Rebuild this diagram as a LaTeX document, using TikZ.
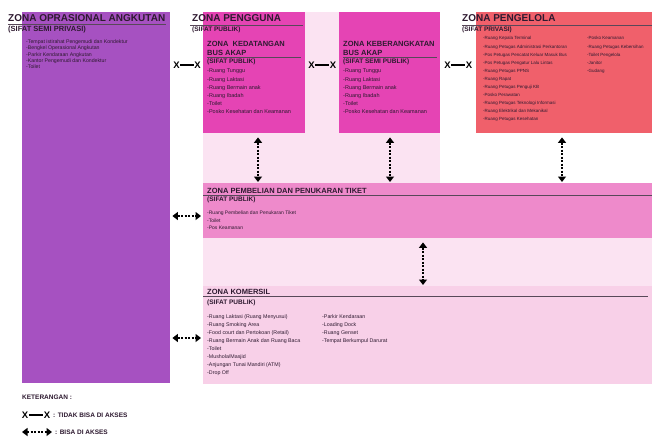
\documentclass[tikz,border=0pt]{standalone}
\usepackage{fontspec}
\setmainfont{Liberation Sans}
\usetikzlibrary{arrows.meta,calc}
\definecolor{purp}{HTML}{A651C1}
\definecolor{mag}{HTML}{E544B4}
\definecolor{lpink}{HTML}{FBE3F2}
\definecolor{salmon}{HTML}{F0606B}
\definecolor{pemb}{HTML}{EE8ACB}
\definecolor{komc}{HTML}{F8D0E8}
\definecolor{ink}{HTML}{2E1A30}
\begin{document}
\begin{tikzpicture}[x=1pt,y=-1pt,
  zone/.style={rectangle, inner sep=0pt, anchor=north west, draw=none},
  ttl/.style={anchor=west, inner sep=0pt, text=ink, font=\fontsize{10}{11}\selectfont\bfseries},
  sttl/.style={anchor=west, inner sep=0pt, text=ink, font=\fontsize{7.5}{9}\selectfont\bfseries},
  sub/.style={anchor=west, inner sep=0pt, text=ink, font=\fontsize{6.5}{7}\selectfont\bfseries},
  lst/.style={anchor=north west, inner sep=0pt, align=left, text=ink},
  uline/.style={draw=ink!80, line width=0.6pt},
  xm/.style={inner sep=0pt, font=\fontsize{9.5}{9.5}\selectfont\bfseries, text=black},
  xline/.style={line width=1.1pt, black, shorten <=0.5pt, shorten >=0.5pt},
  acc/.style={line width=1.4pt, black, dash pattern=on 2.2pt off 1.3pt,
    {Triangle[length=5.5pt,width=8pt]}-{Triangle[length=5.5pt,width=8pt]}},
  leg/.style={anchor=west, inner sep=0pt, text=ink, font=\fontsize{6.5}{7}\selectfont\bfseries}
]
\useasboundingbox[fill=white] (0,0) rectangle (652,436);

% background of Zona Pengguna
\fill[lpink] (203,12) rectangle (440,384);
\fill[lpink] (203,183) rectangle (652,384);

% zones
\node[zone, fill=purp, minimum width=148pt, minimum height=371pt] (opr) at (22,12) {};
\node[zone, fill=mag, minimum width=102pt, minimum height=121pt] (ked) at (203,12) {};
\node[zone, fill=mag, minimum width=101pt, minimum height=121pt] (ber) at (339,12) {};
\node[zone, fill=salmon, minimum width=176pt, minimum height=121pt] (pen) at (476,12) {};
\node[zone, fill=pemb, minimum width=449pt, minimum height=55pt] (pemb) at (203,183) {};
\node[zone, fill=komc, minimum width=449pt, minimum height=98pt] (kom) at (203,286) {};

% Zona Oprasional
\node[ttl] (oprT) at (8,18) {ZONA OPRASIONAL ANGKUTAN};
\draw[uline] (8,24.5) -- (166,24.5);
\node[sttl] (oprS) at (8,30) {(SIFAT SEMI PRIVASI)};
\node[lst, font=\fontsize{5.2}{6.3}\selectfont] (oprL) at (26,39.5) {-Tempat istirahat Pengemudi dan Kondektur\\-Bengkel Operasional Angkutan\\-Parkir Kendaraan Angkutan\\-Kantor Pengemudi dan Kondektur\\-Toilet};

% Zona Pengguna
\node[ttl] (pgT) at (192,18.5) {ZONA PENGGUNA};
\node[sub] (pgS) at (192,29.5) {(SIFAT PUBLIK)};
\draw[uline] (190,25) -- (303,25);

% Kedatangan
\node[sttl] (kedT1) at (207,43.5) {ZONA\ \ KEDATANGAN};
\node[sttl] (kedT2) at (207,52.5) {BUS AKAP};
\draw[uline] (207,57.5) -- (301,57.5);
\node[sub] (kedS) at (207,62) {(SIFAT PUBLIK)};
\node[lst, font=\fontsize{5.5}{8.1}\selectfont] (kedL) at (207,69) {-Ruang Tunggu\\-Ruang Laktasi\\-Ruang Bermain anak\\-Ruang Ibadah\\-Toilet\\-Posko Kesehatan dan Keamanan};

% Keberangkatan
\node[sttl] (berT1) at (343,43.5) {ZONA KEBERANGKATAN};
\node[sttl] (berT2) at (343,52.5) {BUS AKAP};
\draw[uline] (343,57.5) -- (437,57.5);
\node[sub] (berS) at (343,62) {(SIFAT SEMI PUBLIK)};
\node[lst, font=\fontsize{5.5}{8.1}\selectfont] (berL) at (343,69) {-Ruang Tunggu\\-Ruang Laktasi\\-Ruang Bermain anak\\-Ruang Ibadah\\-Toilet\\-Posko Kesehatan dan Keamanan};

% Pengelola
\node[ttl] (penT) at (462,18.5) {ZONA PENGELOLA};
\draw[uline] (462,25) -- (652,25);
\node[sub] (penS) at (462,29.5) {(SIFAT PRIVASI)};
\node[lst, font=\fontsize{4.5}{8.1}\selectfont] (penL1) at (483,36.5) {-Ruang Kepala Terminal\\-Ruang Petugas Administrasi Perkantoran\\-Pos Petugas Pencatat Keluar Masuk Bus\\-Pos Petugas Pengatur Lalu Lintas\\-Ruang Petugas PPNS\\-Ruang Rapat\\-Ruang Petugas Penguji KB\\-Posko Perawatan\\-Ruang Petugas Teknologi Informasi\\-Ruang Elektrikal dan Mekanikal\\-Ruang Petugas Kesehatan};
\node[lst, font=\fontsize{4.5}{8.1}\selectfont] (penL2) at (587,36.5) {-Posko Keamanan\\-Ruang Petugas Kebersihan\\-Toilet Pengelola\\-Janitor\\-Gudang};

% Pembelian
\node[sttl] (pembT) at (207,190.5) {ZONA PEMBELIAN DAN PENUKARAN TIKET};
\draw[uline] (203,195.5) -- (652,195.5);
\node[sub] (pembS) at (207,200) {(SIFAT PUBLIK)};
\node[lst, font=\fontsize{5}{7.2}\selectfont] (pembL) at (207,211) {-Ruang Pembelian dan Penukaran Tiket\\-Toilet\\-Pos Keamanan};

% Komersil
\node[sttl] (komT) at (207,292) {ZONA KOMERSIL};
\draw[uline] (203,296) -- (648,296);
\node[sub] (komS) at (207,303) {(SIFAT PUBLIK)};
\node[lst, font=\fontsize{5.3}{8}\selectfont] (komL1) at (207,314.5) {-Ruang Laktasi (Ruang Menyusui)\\-Ruang Smoking Area\\-Food court dan Pertokoan (Retail)\\-Ruang Bermain Anak dan Ruang Baca\\-Toilet\\-Mushola/Masjid\\-Anjungan Tunai Mandiri (ATM)\\-Drop Off};
\node[lst, font=\fontsize{5.3}{8}\selectfont] (komL2) at (322,314.5) {-Parkir Kendaraan\\-Loading Dock\\-Ruang Genset\\-Tempat Berkumpul Darurat};

% not accessible
\node[xm] (xa1) at (176.5,65) {X};
\node[xm] (xa2) at (197.5,65) {X};
\draw[xline] (xa1) -- (xa2);
\node[xm] (xb1) at (311.5,65) {X};
\node[xm] (xb2) at (333,65) {X};
\draw[xline] (xb1) -- (xb2);
\node[xm] (xc1) at (447.5,65) {X};
\node[xm] (xc2) at (469,65) {X};
\draw[xline] (xc1) -- (xc2);

% accessible
\coordinate (v1) at (258,0);
\coordinate (v2) at (390,0);
\coordinate (v3) at (562,0);
\coordinate (v4) at (423,0);
\draw[acc, shorten >=1pt, shorten <=4pt] (v1 |- ked.south) -- (v1 |- pemb.north);
\draw[acc, shorten >=1pt, shorten <=4pt] (v2 |- ber.south) -- (v2 |- pemb.north);
\draw[acc, shorten >=1pt, shorten <=4pt] (v3 |- pen.south) -- (v3 |- pemb.north);
\draw[acc, shorten >=1pt, shorten <=4pt] (v4 |- pemb.south) -- (v4 |- kom.north);
\coordinate (h1) at (0,216);
\coordinate (h2) at (0,338);
\draw[acc, shorten >=2pt, shorten <=2pt] (h1 -| opr.east) -- (h1 -| pemb.west);
\draw[acc, shorten >=2pt, shorten <=2pt] (h2 -| opr.east) -- (h2 -| kom.west);

% legend
\node[leg] (kt) at (22,397) {KETERANGAN :};
\node[xm] (lx1) at (25,415) {X};
\node[xm] (lx2) at (47,415) {X};
\draw[xline] (lx1) -- (lx2);
\node[leg] (lt1) at (53,415.5) {: TIDAK BISA DI AKSES};
\coordinate (la1) at (22,432);
\coordinate (la2) at (52,432);
\draw[acc] (la1) -- (la2);
\node[leg] (lt2) at (55,432.5) {: BISA DI AKSES};
\end{tikzpicture}
\end{document}
